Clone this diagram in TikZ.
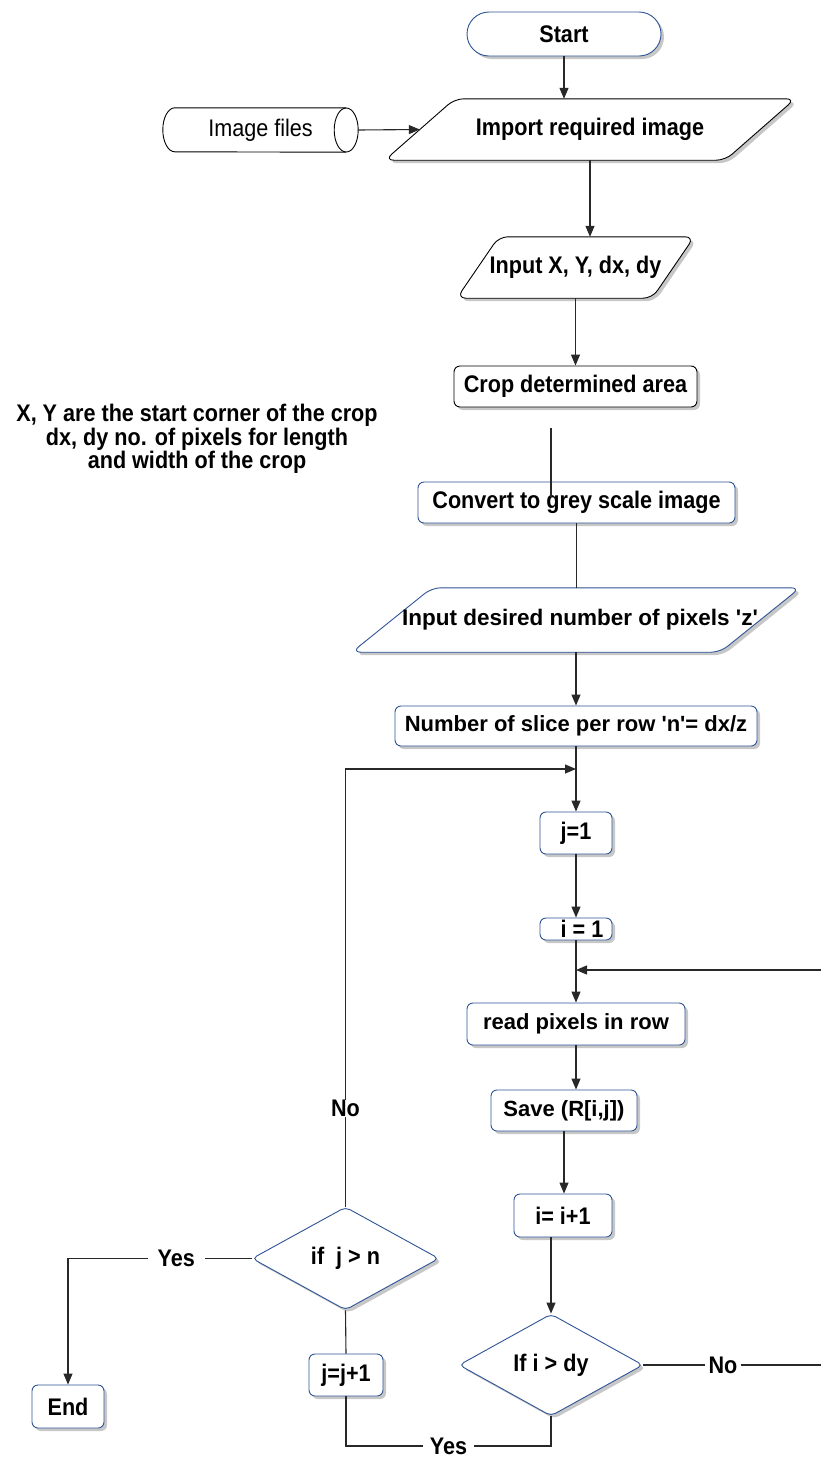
\documentclass[tikz,border=0pt]{standalone}
\usepackage{fontspec}
\setmainfont{Liberation Sans}[FakeStretch=0.9]
\newfontfamily\widefont{Liberation Sans}
\usetikzlibrary{shapes.geometric,arrows.meta,shadows,calc,backgrounds}
\definecolor{vblue}{RGB}{46,84,150}
\definecolor{lgrey}{RGB}{40,40,40}
\newcommand\paradraw[3]{%
  \draw[parashape,draw=#3] (#1.south west) -- ($(#1.north west)+(#2,0)$) -- (#1.north east) -- ($(#1.south east)+(-#2,0)$) -- cycle;}
\begin{document}
\begin{tikzpicture}[x=1pt,y=-1pt,
  font=\fontsize{24}{25}\selectfont\bfseries,
  shd/.style={drop shadow={shadow xshift=3pt,shadow yshift=-3pt,opacity=0.22,fill=black}},
  box/.style={rectangle,rounded corners=6pt,draw=vblue,line width=0.9pt,fill=white,shd,inner sep=0pt},
  kbox/.style={box,draw=black},
  paratext/.style={rectangle,inner sep=0pt},
  parashape/.style={line width=0.9pt,fill=white,shd,rounded corners=9pt},
  dia/.style={diamond,draw=vblue,line width=0.9pt,fill=white,shd,rounded corners=5pt,inner sep=0pt},
  con/.style={draw=lgrey,line width=1.1pt},
  arr/.style={con,-{Triangle[length=11pt,width=9pt]}},
  lbl/.style={fill=white,inner xsep=7pt,inner ysep=0pt,text=black}
]
\useasboundingbox (0,0) rectangle (821,1457);

% nodes
\node[box,rounded corners=22pt,minimum width=194pt,minimum height=44pt] (start) at (564,34) {Start};
\node[paratext,minimum width=410pt,minimum height=61pt] (imp) at (590,129.5) {Import required image};
\node[rectangle,inner sep=0pt,minimum width=195pt,minimum height=44pt,font=\fontsize{24}{25}\selectfont\mdseries] (files) at (260.5,130) {Image files};
\node[paratext,minimum width=237pt,minimum height=61pt] (xy) at (575.5,267.5) {Input X, Y, dx, dy};
\node[kbox,minimum width=243pt,minimum height=41pt] (crop) at (575.5,386.5) {Crop determined area};
\node[align=center,font=\fontsize{24}{22}\selectfont\bfseries] (note) at (197,439) {X, Y are the start corner of the crop\\dx, dy no. of pixels for length\\and width of the crop};
\node[box,minimum width=317pt,minimum height=41pt] (conv) at (576.5,502.5) {Convert to grey scale image};
\node[paratext,minimum width=448pt,minimum height=64pt,font=\widefont\fontsize{22.5}{25}\selectfont\bfseries] (inz) at (576,620) {\hspace*{8pt}Input desired number of pixels \textquotesingle z\textquotesingle};
\node[box,minimum width=362pt,minimum height=40pt,font=\widefont\fontsize{22}{25}\selectfont\bfseries] (num) at (576,726) {Number of slice per row \textquotesingle n\textquotesingle= dx/z};
\node[box,minimum width=72pt,minimum height=42pt] (j1) at (576,833) {j=1};
\node[box,minimum width=72pt,minimum height=22pt] (i1) at (576,929) {\ \ i = 1};
\node[box,minimum width=218pt,minimum height=42pt,font=\widefont\fontsize{22}{25}\selectfont\bfseries] (read) at (576,1024) {read pixels in row};
\node[box,minimum width=146pt,minimum height=41pt,font=\widefont\fontsize{22}{25}\selectfont\bfseries] (save) at (564,1110.5) {Save (R[i,j])};
\node[box,minimum width=98pt,minimum height=43pt] (inc) at (563,1215.5) {i= i+1};
\node[dia,minimum width=184pt,minimum height=102pt] (ifi) at (551,1365) {If i > dy};
\node[dia,minimum width=187pt,minimum height=103pt] (ifj) at (345.5,1258.5) {if\ \ j > n};
\node[box,minimum width=74pt,minimum height=42pt] (jinc) at (346,1375) {j=j+1};
\node[box,minimum width=72pt,minimum height=43pt] (end) at (68,1406.5) {End};

% parallelogram and cylinder outlines
\begin{scope}[on background layer]
  \paradraw{imp}{70pt}{black}
  \paradraw{xy}{42pt}{black}
  \paradraw{inz}{80pt}{vblue}
\end{scope}
\draw[line width=0.9pt] ($(files.north east)+(-12pt,0)$) -- ($(files.north west)+(12pt,0)$)
  arc[start angle=90,end angle=270,x radius=12pt,y radius=22pt] -- ($(files.south east)+(-12pt,0)$);
\draw[line width=0.9pt] ($(files.east)+(-12pt,0)$) ellipse[x radius=12pt,y radius=22pt];

% helper coordinates
\coordinate (impin) at ($(imp.west)+(35pt,0)$);
\coordinate (loop) at (576,769);
\coordinate (re1) at (824,1365);
\coordinate (re2) at (824,970);
\coordinate (yb) at (551,1446);
\coordinate (s1) at (551,428);
\coordinate (s2) at (551,497);

% connectors
\draw[arr] (start.south) -- (start.south |- imp.north);
\draw[arr] (files.east) -- (impin);
\draw[arr] (imp.south) -- (imp.south |- xy.north);
\draw[arr] (xy.south) -- (xy.south |- crop.north);
\draw[con] (s1) -- (s2);
\draw[con] (conv.south) -- (conv.south |- inz.north);
\draw[arr] (inz.south) -- (inz.south |- num.north);
\draw[arr] (num.south) -- (j1.north);
\draw[arr] (j1.south) -- (i1.north);
\draw[arr] (i1.south) -- (read.north);
\draw[arr] (read.south) -- (read.south |- save.north);
\draw[arr] (save.south) -- (save.south |- inc.north);
\draw[arr] (ifi.north |- inc.south) -- (ifi.north);
\draw[arr] (ifi.east) -- node[lbl,pos=0.44,inner xsep=4pt]{No} (re1) -- (re2) -- (re2 -| read.north);
\draw[con] (ifi.south) -- (yb) -- node[lbl]{Yes} (yb -| jinc.south) -- (jinc.south);
\draw[con] (jinc.north) -- (ifj.south);
\draw[arr] (ifj.north) |- node[lbl,pos=0.112,inner xsep=2pt]{No} (loop);
\draw[arr] (ifj.west) -| node[lbl,pos=0.205,inner xsep=10pt]{Yes} (end.north);
\end{tikzpicture}
\end{document}
